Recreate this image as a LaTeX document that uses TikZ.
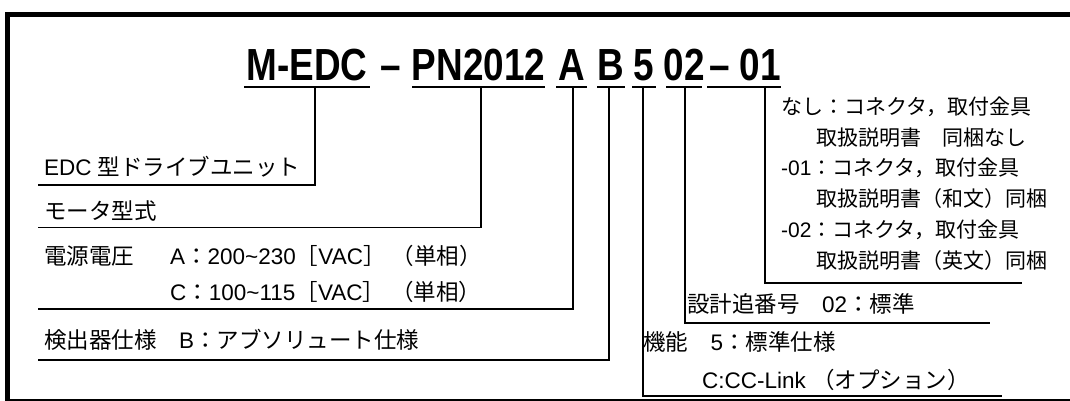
\documentclass[tikz,border=0pt]{standalone}
\usepackage{fontspec}
\setmainfont{Liberation Sans}
\newfontfamily\J{Noto Sans CJK JP}
\newfontfamily\TF{Liberation Sans}[FakeStretch=0.82]
\begin{document}
\begin{tikzpicture}[x=1pt,y=-1pt,
  title/.style={font=\TF\fontsize{45}{52}\selectfont\bfseries, anchor=base, inner sep=0pt},
  lbl/.style={font=\fontsize{22.5}{26}\selectfont, anchor=base west, inner sep=0pt},
  rlbl/.style={lbl, font=\fontsize{21}{25}\selectfont},
  uline/.style={line width=1.5pt},
  conn/.style={line width=1.2pt},
  frame/.style={line width=4.5pt}]
\useasboundingbox (0,0) rectangle (1070,401);
% frame
\draw[frame] (1075,14.5) -- (7.5,14.5) -- (7.5,405);
\draw[line width=1.5pt] (5,400) -- (1075,400);
% title segments
\node[title] (t1) at (307,81) {M-EDC};
\node[title] (td) at (391,81) {–};
\node[title] (t2) at (478.5,81) {PN2012};
\node[title] (t3) at (571.5,81) {A};
\node[title] (t4) at (611,81) {B};
\node[title] (t5) at (644,81) {5};
\node[title] (t6) at (684,81) {02};
\node[title] (t7) at (745,81) {– 01};
\draw[uline] (244,87) -- (370,87);
\draw[uline] (412,87) -- (545,87);
\draw[uline] (556,87) -- (587,87);
\draw[uline] (597,87) -- (625,87);
\draw[uline] (632,87) -- (656,87);
\draw[uline] (666,87) -- (702,87);
\draw[uline] (707,87) -- (781,87);
\coordinate (v1) at (315,87);
\coordinate (v2) at (481,87);
\coordinate (v3) at (573,87);
\coordinate (v4) at (609,87);
\coordinate (v5) at (643,87);
\coordinate (v6) at (685,87);
\coordinate (v7) at (765,87);
% left labels
\node[lbl] (l1) at (44,175) {EDC {\J 型ドライブユニット}};
\node[lbl] (l2) at (44,219) {\J モータ型式};
\node[lbl] (l3) at (44,264) {\J 電源電圧};
\node[lbl] (l3a) at (170,264) {A{\J ：}200\char"007E 230{\J ［}VAC{\J ］} {\J （単相）}};
\node[lbl] (l3c) at (170,300) {C{\J ：}100\char"007E 115{\J ［}VAC{\J ］} {\J （単相）}};
\node[lbl] (l4) at (44,348) {{\J 検出器仕様　}B{\J ：アブソリュート仕様}};
\coordinate (e1) at (38,185);
\coordinate (e2) at (38,227.5);
\coordinate (e3) at (38,309);
\coordinate (e4) at (38,360);
\draw[conn] (v1) |- (e1);
\draw[conn] (v2) |- (e2);
\draw[conn] (v3) |- (e3);
\draw[conn] (v4) |- (e4);
% right labels
\node[rlbl] (r1) at (781,114) {\J なし：コネクタ，取付金具};
\node[rlbl] (r2) at (816,145) {\J 取扱説明書　同梱なし};
\node[rlbl] (r3) at (781,175) {-01{\J ：コネクタ，取付金具}};
\node[rlbl] (r4) at (816,206) {\J 取扱説明書（和文）同梱};
\node[rlbl] (r5) at (781,237) {-02{\J ：コネクタ，取付金具}};
\node[rlbl] (r6) at (816,268) {\J 取扱説明書（英文）同梱};
\node[lbl] (r7) at (687,312) {{\J 設計追番号　}02{\J ：標準}};
\node[lbl] (r8) at (643,350) {{\J 機能　}5{\J ：標準仕様}};
\node[lbl] (r9) at (702,388) {C:CC-Link {\J （オプション）}};
\coordinate (e7) at (1022,283);
\coordinate (e6) at (990,323);
\coordinate (e5) at (1002,396);
\draw[conn] (v7) |- (e7);
\draw[conn] (v6) |- (e6);
\draw[conn] (v5) |- (e5);
\end{tikzpicture}
\end{document}
